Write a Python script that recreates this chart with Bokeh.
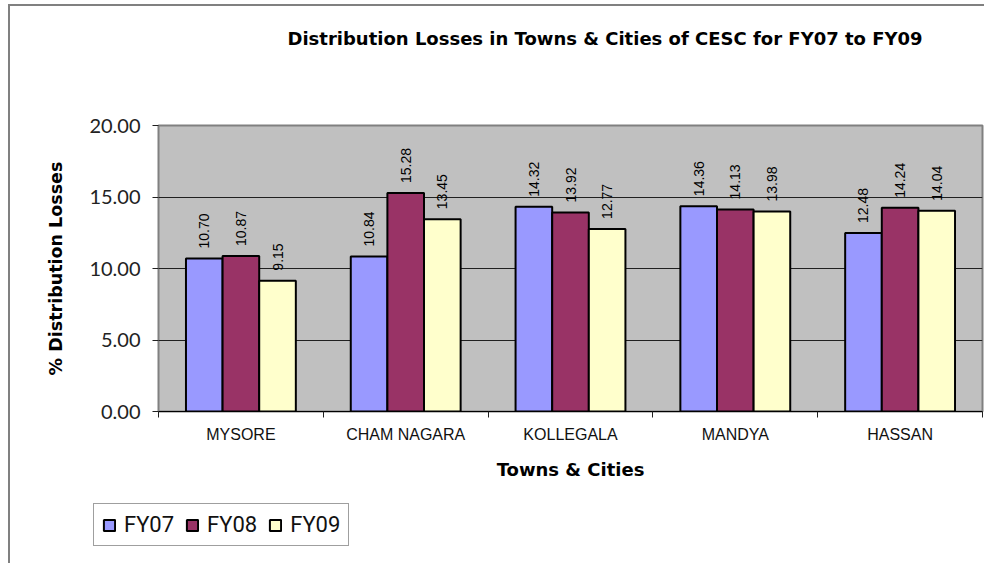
from bokeh.plotting import figure
from bokeh.layouts import column
from bokeh.models import (ColumnDataSource, Range1d, FixedTicker, Legend, LegendItem,
                          NumeralTickFormatter, Label)
from bokeh.core.properties import value
from bokeh.embed import file_html
from bokeh.resources import INLINE

towns = ["MYSORE", "CHAM NAGARA", "KOLLEGALA", "MANDYA", "HASSAN"]
fy07 = [10.70, 10.84, 14.32, 14.36, 12.48]
fy08 = [10.87, 15.28, 13.92, 14.13, 14.24]
fy09 = [9.15, 13.45, 12.77, 13.98, 14.04]
series_names = ["FY07", "FY08", "FY09"]
series_colors = ["#9999FF", "#993366", "#FFFFCC"]
y_ticks = [0, 5, 10, 15, 20]
title_text = "Distribution Losses in Towns & Cities of CESC for FY07 to FY09"

bar_w = 1 / 4.5
offsets = [-bar_w, 0.0, bar_w]

W = 984


def strip(h):
    # helper strip whose data ranges lie far away from any data: only annotations show
    f = figure(width=W, height=h, output_backend="svg", toolbar_location=None,
               x_range=Range1d(-100, -99), y_range=Range1d(-100, -99),
               min_border_left=0, min_border_right=0, min_border_top=0, min_border_bottom=0,
               background_fill_color=None, border_fill_color=None, outline_line_color=None)
    f.axis.visible = False
    f.grid.visible = False
    f.frame_align = False
    return f


# title strip
ts = strip(80)
ts.add_layout(Label(x=287, y=42, x_units="screen", y_units="screen", text=title_text,
                    text_font="DejaVu Sans", text_font_style="bold", text_font_size="18px",
                    text_color="black", text_baseline="middle", text_align="left"))

# main chart
p = figure(width=W, height=415, output_backend="svg", toolbar_location=None,
           x_range=Range1d(0, len(towns)), y_range=Range1d(0, 20),
           min_border_left=158, min_border_right=2, min_border_top=45, min_border_bottom=84,
           background_fill_color="#C0C0C0", border_fill_color=None)
p.frame_align = False
p.outline_line_color = "#808080"
p.outline_line_width = 2

p.xgrid.grid_line_color = None
p.ygrid.ticker = FixedTicker(ticks=y_ticks)
p.ygrid.grid_line_color = "#202020"
p.ygrid.grid_line_width = 1

p.yaxis.ticker = FixedTicker(ticks=y_ticks)
p.yaxis.formatter = NumeralTickFormatter(format="0.00")
p.yaxis.axis_line_color = None
p.yaxis.major_tick_out = 6
p.yaxis.major_tick_in = 0
p.yaxis.major_tick_line_color = "#202020"
p.yaxis.minor_tick_line_color = None
p.yaxis.major_label_standoff = 12
p.yaxis.major_label_text_font = "Lato"
p.yaxis.major_label_text_font_size = "20px"
p.yaxis.major_label_text_color = "#222222"
p.yaxis.axis_label = "% Distribution Losses"
p.yaxis.axis_label_text_font = "DejaVu Sans"
p.yaxis.axis_label_text_font_style = "bold"
p.yaxis.axis_label_text_font_size = "17.5px"
p.yaxis.axis_label_text_color = "black"
p.yaxis.axis_label_standoff = 20

centers = [i + 0.5 for i in range(len(towns))]
bounds = list(range(len(towns) + 1))
p.xaxis.ticker = FixedTicker(ticks=centers, minor_ticks=bounds)
p.xaxis.major_label_overrides = {c: t for c, t in zip(centers, towns)}
p.xaxis.major_tick_line_color = None
p.xaxis.major_tick_out = 0
p.xaxis.major_tick_in = 0
p.xaxis.minor_tick_out = 6
p.xaxis.minor_tick_in = 0
p.xaxis.minor_tick_line_color = "#202020"
p.xaxis.axis_line_color = "#000000"
p.xaxis.axis_line_width = 1
p.xaxis.major_label_standoff = 8
p.xaxis.major_label_text_font = "Liberation Sans"
p.xaxis.major_label_text_font_size = "16px"
p.xaxis.major_label_text_color = "#111111"
p.xaxis.axis_label = "Towns & Cities"
p.xaxis.axis_label_text_font = "DejaVu Sans"
p.xaxis.axis_label_text_font_style = "bold"
p.xaxis.axis_label_text_font_size = "18px"
p.xaxis.axis_label_text_color = "black"
p.xaxis.axis_label_standoff = 13

# legend strip
lg = strip(68)

items = []
for name, vals, col, off in zip(series_names, [fy07, fy08, fy09], series_colors, offsets):
    xs = [i + 0.5 + off for i in range(len(towns))]
    src = ColumnDataSource(dict(x=xs, top=vals, lab=[f"{v:.2f}" for v in vals]))
    p.vbar(x="x", top="top", width=bar_w, bottom=0, source=src,
           fill_color=col, line_color="black", line_width=2)
    p.text(x="x", y="top", text="lab", source=src, angle=1.5707963, text_align="left",
           text_baseline="middle", y_offset=-10, text_font=value("Liberation Sans"),
           text_font_size="14px", text_color="black")
    # same series in the legend strip (hidden), used only for the legend swatch
    r = lg.vbar(x="x", top="top", width=bar_w, bottom=0, source=src,
                fill_color=col, line_color="black", line_width=2, visible=False)
    items.append(LegendItem(label=name, renderers=[r]))

legend = Legend(items=items, orientation="horizontal", location=(93, 17),
                label_text_font="Roboto", label_text_font_size="22px", label_text_color="#111111",
                glyph_width=14, glyph_height=14, label_standoff=8, spacing=11,
                padding=8, margin=0, border_line_color="#404040", border_line_width=1,
                background_fill_color="white", background_fill_alpha=1)
lg.add_layout(legend, "center")

layout = column(ts, p, lg, spacing=0)
layout.styles = {
    "background": "linear-gradient(#808080,#808080) 8px 4px / 2px 100% no-repeat, "
                  "linear-gradient(#808080,#808080) 8px 4px / 100% 2px no-repeat, white",
}

open("out.html", "w").write(file_html(layout, INLINE))
